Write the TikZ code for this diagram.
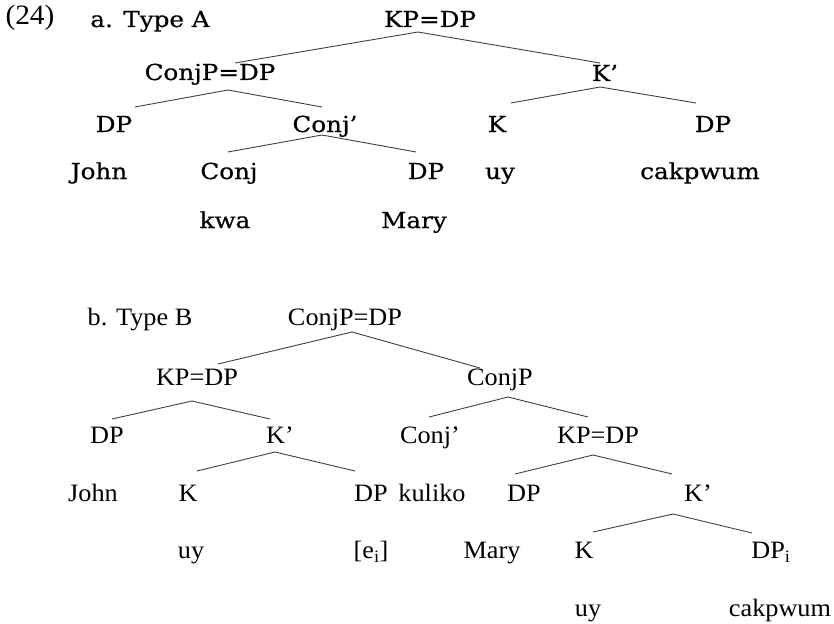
\documentclass[tikz,border=0pt]{standalone}
\usepackage{fontspec}
\usepackage{tikz}
\setmainfont{Liberation Serif}
\newfontfamily\schfont[FakeStretch=1.12, FakeBold=0.6]{DejaVu Serif}
\newfontfamily\timfont[FakeStretch=1.05]{Liberation Serif}

\begin{document}
\begin{tikzpicture}
            [x=1pt, y=-1pt,
             lblA/.style = {inner sep=0pt, font=\schfont\fontsize{22}{26}\selectfont, text height=16pt, text depth=0pt},
             lblB/.style = {inner sep=0pt, font=\timfont\fontsize{25}{30}\selectfont, text height=17pt, text depth=0pt},
             branch/.style = {draw=black!75, line width=0.9pt}]

            \useasboundingbox (0,0) rectangle (834,623);

            % tree a
            \node[inner sep=0pt, font=\timfont\fontsize{28}{32}\selectfont] (num) at (30,18) {(24)};
            \node[lblA] (titleA) at (150,19) {a. Type A};
            \node[lblA] (kpA) at (430,19) {KP=DP};
            \node[lblA] (cpA) at (210,72) {ConjP=DP};
            \node[lblA] (kbarA) at (605,73) {K’};
            \node[lblA] (dpA1) at (114,124) {DP};
            \node[lblA] (conjbarA) at (325,124) {Conj’};
            \node[lblA] (kA) at (497,124) {K};
            \node[lblA] (dpA3) at (713,124) {DP};
            \node[lblA] (johnA) at (99,171) {John};
            \node[lblA] (conjA) at (229,171) {Conj};
            \node[lblA] (dpA2) at (426,171) {DP};
            \node[lblA] (uyA) at (500,171) {uy};
            \node[lblA] (cakA) at (700,171) {cakpwum};
            \node[lblA] (kwaA) at (225,220) {kwa};
            \node[lblA] (maryA) at (414,220) {Mary};

            \draw[branch] ([shift={(-12,13)}]kpA.center) -- ([shift={(25,-9)}]cpA.center);
            \draw[branch] ([shift={(-12,13)}]kpA.center) -- ([shift={(-5,-10)}]kbarA.center);
            \draw[branch] ([shift={(18,18)}]cpA.center) -- ([shift={(21,-17)}]dpA1.center);
            \draw[branch] ([shift={(18,18)}]cpA.center) -- ([shift={(-3,-17)}]conjbarA.center);
            \draw[branch] ([shift={(-5,14)}]kbarA.center) -- ([shift={(14,-21)}]kA.center);
            \draw[branch] ([shift={(-5,14)}]kbarA.center) -- ([shift={(-17,-21)}]dpA3.center);
            \draw[branch] ([shift={(-3,11)}]conjbarA.center) -- ([shift={(-1,-19)}]conjA.center);
            \draw[branch] ([shift={(-3,11)}]conjbarA.center) -- ([shift={(-10,-19)}]dpA2.center);

            % tree b
            \node[lblB] (titleB) at (140,317) {b. Type B};
            \node[lblB] (cpB) at (345,317) {ConjP=DP};
            \node[lblB] (kpB1) at (197,377) {KP=DP};
            \node[lblB] (conjpB) at (500,377) {ConjP};
            \node[lblB] (dpB1) at (107,435) {DP};
            \node[lblB] (kbarB1) at (280,435) {K’};
            \node[lblB] (conjbarB) at (430,435) {Conj’};
            \node[lblB] (kpB2) at (598,435) {KP=DP};
            \node[lblB] (johnB) at (93,493) {John};
            \node[lblB] (kB1) at (188,493) {K};
            \node[lblB] (dpB2) at (371,493) {DP};
            \node[lblB] (kulikoB) at (432,493) {kuliko};
            \node[lblB] (dpB3) at (524,493) {DP};
            \node[lblB] (kbarB2) at (698,493) {K’};
            \node[lblB] (uyB1) at (191,550) {uy};
            \node[lblB] (traceB) at (371,550) {[e\textsubscript{i}]};
            \node[lblB] (maryB) at (492,550) {Mary};
            \node[lblB] (kB2) at (584,550) {K};
            \node[lblB] (dpB4) at (771,550) {DP\textsubscript{i}};
            \node[lblB] (uyB2) at (588,608) {uy};
            \node[lblB] (cakB) at (780,608) {cakpwum};

            \draw[branch] ([shift={(7,15)}]cpB.center) -- ([shift={(21,-13)}]kpB1.center);
            \draw[branch] ([shift={(7,15)}]cpB.center) -- ([shift={(-20,-9)}]conjpB.center);
            \draw[branch] ([shift={(-5,24)}]kpB1.center) -- ([shift={(5,-16)}]dpB1.center);
            \draw[branch] ([shift={(-5,24)}]kpB1.center) -- ([shift={(-10,-16)}]kbarB1.center);
            \draw[branch] ([shift={(8,20)}]conjpB.center) -- ([shift={(-1,-18)}]conjbarB.center);
            \draw[branch] ([shift={(8,20)}]conjpB.center) -- ([shift={(-10,-18)}]kpB2.center);
            \draw[branch] ([shift={(-5,17)}]kbarB1.center) -- ([shift={(9,-22)}]kB1.center);
            \draw[branch] ([shift={(-5,17)}]kbarB1.center) -- ([shift={(-16,-22)}]dpB2.center);
            \draw[branch] ([shift={(-5,20)}]kpB2.center) -- ([shift={(-9,-19)}]dpB3.center);
            \draw[branch] ([shift={(-5,20)}]kpB2.center) -- ([shift={(-26,-19)}]kbarB2.center);
            \draw[branch] ([shift={(-25,21)}]kbarB2.center) -- ([shift={(9,-18)}]kB2.center);
            \draw[branch] ([shift={(-25,21)}]kbarB2.center) -- ([shift={(-19,-17)}]dpB4.center);

        \end{tikzpicture}
\end{document}
